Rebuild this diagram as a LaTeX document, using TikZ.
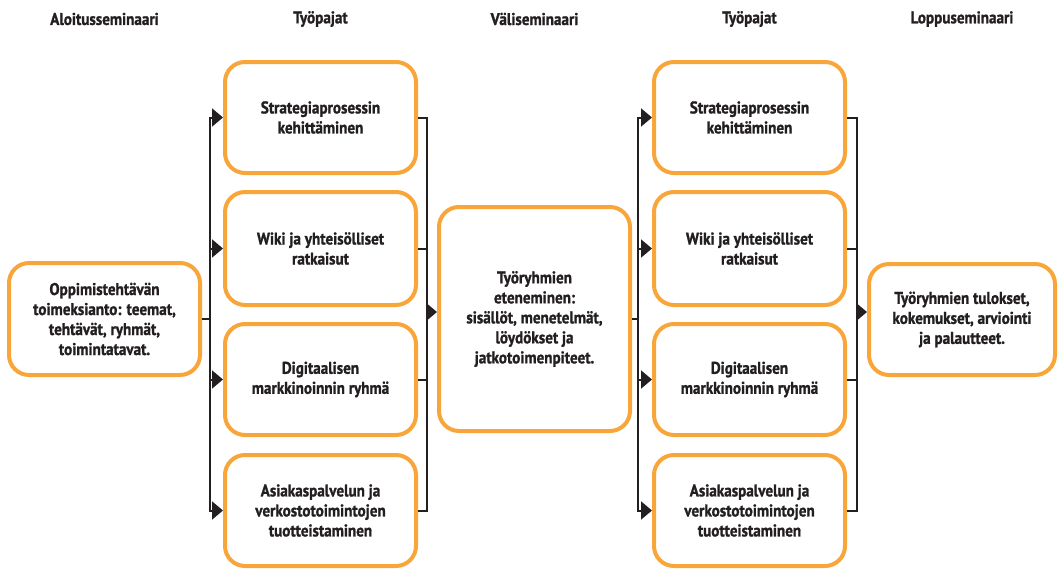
\documentclass[tikz,border=0pt]{standalone}
\usepackage{fontspec}
\setmainfont{PT Sans}[FakeStretch=0.89, BoldFeatures={FakeBold=1.2}]
\usetikzlibrary{arrows.meta}
\definecolor{boxorange}{HTML}{F8A53A}
\definecolor{ink}{HTML}{231F20}
\begin{document}
\begin{tikzpicture}[x=1pt,y=-1pt,
  every node/.style={font=\bfseries\fontsize{17}{20}\selectfont, text=ink, align=center},
  stage/.style={draw=boxorange, line width=4pt, rounded corners=20pt, fill=white,
    minimum width=191pt, minimum height=111pt, inner sep=2pt},
  heading/.style={font=\bfseries\fontsize{17}{18}\selectfont},
  conn/.style={draw=ink, line width=2pt},
  arr/.style={conn, -{Triangle[length=11pt,width=18pt]}}]
\useasboundingbox (0,0) rectangle (1058,570);

% column headings
\node[heading] (h1) at (104.5,19) {Aloitusseminaari};
\node[heading] (h2) at (320.5,19) {Työpajat};
\node[heading] (h3) at (534.5,19) {Väliseminaari};
\node[heading] (h4) at (749.5,19) {Työpajat};
\node[heading] (h5) at (962,19) {Loppuseminaari};

% stage boxes
\node[stage, minimum height=112pt] (start) at (104.5,319) {Oppimistehtävän\\toimeksianto: teemat,\\tehtävät, ryhmät,\\toimintatavat.};

\node[stage] (w1) at (320.5,117.5) {Strategiaprosessin\\kehittäminen};
\node[stage, minimum height=113pt] (w2) at (320.5,248.5) {Wiki ja yhteisölliset\\ratkaisut};
\node[stage] (w3) at (320.5,379.5) {Digitaalisen\\markkinoinnin ryhmä};
\node[stage] (w4) at (320.5,510.5) {Asiakaspalvelun ja\\verkostotoimintojen\\tuotteistaminen};

\node[stage, minimum height=224pt] (mid) at (534.5,319) {Työryhmien\\eteneminen:\\sisällöt, menetelmät,\\löydökset ja\\jatkotoimenpiteet.};

\node[stage] (v1) at (749.5,117.5) {Strategiaprosessin\\kehittäminen};
\node[stage, minimum height=113pt] (v2) at (749.5,248.5) {Wiki ja yhteisölliset\\ratkaisut};
\node[stage] (v3) at (749.5,379.5) {Digitaalisen\\markkinoinnin ryhmä};
\node[stage] (v4) at (749.5,510.5) {Asiakaspalvelun ja\\verkostotoimintojen\\tuotteistaminen};

\node[stage, minimum width=186pt] (final) at (962,319.5) {Työryhmien tulokset,\\kokemukset, arviointi\\ja palautteet.};

% bus junctions
\coordinate (busA) at (210,319);
\coordinate (busB) at (427,312);
\coordinate (busC) at (638,319);
\coordinate (busD) at (857,312);

% kick-off to workshops
\draw[conn] (start.east) -- (busA);
\foreach \i in {1,...,4} \draw[arr] (busA) |- (w\i.west);

% workshops to mid-term seminar
\foreach \i in {1,...,4} \draw[conn] (w\i.east) -| (busB);
\draw[arr] (busB) -- (busB -| mid.west);

% mid-term seminar to workshops
\draw[conn] (mid.east) -- (busC);
\foreach \i in {1,...,4} \draw[arr] (busC) |- (v\i.west);

% workshops to final seminar
\foreach \i in {1,...,4} \draw[conn] (v\i.east) -| (busD);
\draw[arr] (busD) -- (busD -| final.west);
\end{tikzpicture}
\end{document}
